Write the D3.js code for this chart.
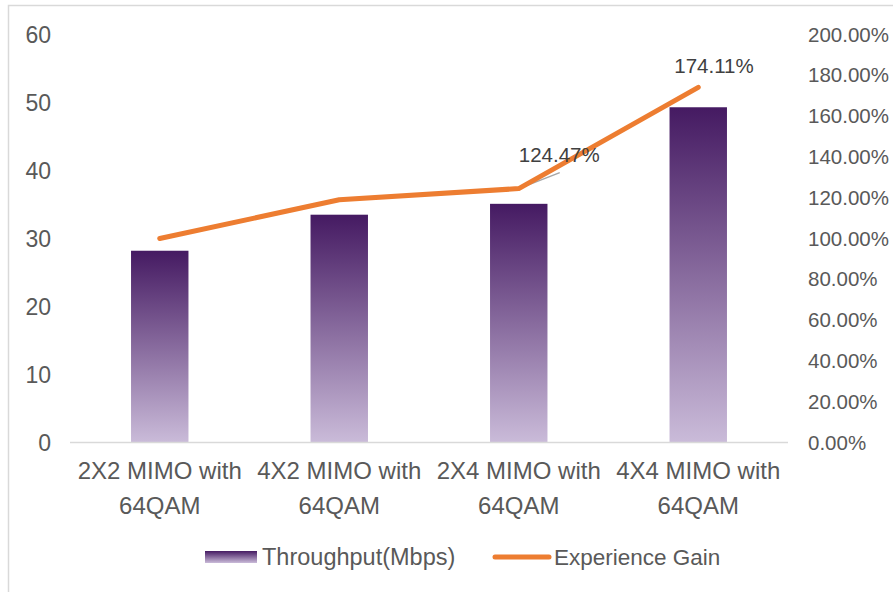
<!DOCTYPE html>
<html><head><meta charset="utf-8">
<script src="https://cdn.jsdelivr.net/npm/d3@7"></script>
<style>body{margin:0;background:#fff}svg{display:block}</style>
</head><body><svg id="c" width="893" height="592"></svg>
<script>
const categories = [["2X2 MIMO with","64QAM"],["4X2 MIMO with","64QAM"],["2X4 MIMO with","64QAM"],["4X4 MIMO with","64QAM"]];
const throughput = [28.2, 33.5, 35.1, 49.3];
const gain = [1.00, 1.19, 1.2447, 1.7411];
const gainLabels = [null, null, "124.47%", "174.11%"];
const leftTicks = [0,10,20,30,40,50,60];
const rightTicks = [0,0.2,0.4,0.6,0.8,1.0,1.2,1.4,1.6,1.8,2.0];
const seriesNames = ["Throughput(Mbps)", "Experience Gain"];

const svg = d3.select("#c");
const font = "'Liberation Sans', Arial, sans-serif";
const txt = "#595959";
const L = 70, R = 788, T = 34.5, B = 442.5;

svg.append("rect").attr("x",8.5).attr("y",5.5).attr("width",900).attr("height",600)
  .attr("fill","#fff").attr("stroke","#d9d9d9").attr("stroke-width",1.5);

const defs = svg.append("defs");
const g = defs.append("linearGradient").attr("id","bg").attr("x1",0).attr("y1",0).attr("x2",0).attr("y2",1);
g.append("stop").attr("offset","0%").attr("stop-color","#451a62");
g.append("stop").attr("offset","100%").attr("stop-color","#cabbd9");

const x = d3.scaleBand().domain(d3.range(categories.length)).range([L,R]).paddingInner(0.68).paddingOuter(0.34);
const y = d3.scaleLinear().domain([0,60]).range([B,T]);
const y2 = d3.scaleLinear().domain([0,2]).range([B,T]);

// left axis labels
svg.append("g").selectAll("text").data(leftTicks).join("text")
  .attr("x",51).attr("y",d=>y(d)+8).attr("text-anchor","end")
  .attr("font-family",font).attr("font-size",23).attr("fill",txt).text(d=>d);
// right axis labels
svg.append("g").selectAll("text").data(rightTicks).join("text")
  .attr("x",808).attr("y",d=>y2(d)+7).attr("text-anchor","start")
  .attr("font-family",font).attr("font-size",20.5).attr("fill",txt).text(d=>d3.format(".2%")(d));

// bars
svg.append("g").selectAll("rect").data(throughput).join("rect")
  .attr("x",(d,i)=>x(i)).attr("width",x.bandwidth())
  .attr("y",d=>y(d)).attr("height",d=>y(0)-y(d)).attr("fill","url(#bg)");

// baseline
svg.append("line").attr("x1",L).attr("x2",R).attr("y1",B).attr("y2",B)
  .attr("stroke","#d9d9d9").attr("stroke-width",1.5);

// category labels
const cg = svg.append("g").selectAll("text").data(categories).join("text")
  .attr("font-family",font).attr("font-size",24).attr("fill",txt).attr("text-anchor","middle");
cg.each(function(d,i){
  const t = d3.select(this);
  d.forEach((line,k)=>t.append("tspan").attr("x",x(i)+x.bandwidth()/2).attr("y",479+k*35).text(line));
});

// leader line for 124.47%
const cx = i => x(i)+x.bandwidth()/2;
svg.append("line").attr("x1",cx(2)).attr("y1",y2(gain[2])).attr("x2",cx(2)+41).attr("y2",y2(gain[2])-16)
  .attr("stroke","#a6a6a6").attr("stroke-width",1.5);

// line
svg.append("path").datum(gain)
  .attr("d",d3.line().x((d,i)=>cx(i)).y(d=>y2(d)))
  .attr("fill","none").attr("stroke","#ed7d31").attr("stroke-width",5)
  .attr("stroke-linecap","round").attr("stroke-linejoin","round");

// data labels
const labOff = [null,null,[0,-27],[-24,-14]];
svg.append("g").selectAll("text").data(gain.map((d,i)=>({d,i})).filter(o=>gainLabels[o.i])).join("text")
  .attr("x",o=>cx(o.i)+labOff[o.i][0]).attr("y",o=>y2(o.d)+labOff[o.i][1])
  .attr("font-family",font).attr("font-size",20.5).attr("fill","#404040")
  .text(o=>gainLabels[o.i]);

// legend
svg.append("rect").attr("x",205).attr("y",551).attr("width",52).attr("height",12).attr("fill","url(#bg)");
svg.append("text").attr("x",262).attr("y",565).attr("font-family",font).attr("font-size",23.5).attr("fill",txt).text(seriesNames[0]);
svg.append("line").attr("x1",495).attr("x2",549).attr("y1",557).attr("y2",557)
  .attr("stroke","#ed7d31").attr("stroke-width",5).attr("stroke-linecap","round");
svg.append("text").attr("x",554).attr("y",565).attr("font-family",font).attr("font-size",22.5).attr("fill",txt).text(seriesNames[1]);
</script></body></html>
